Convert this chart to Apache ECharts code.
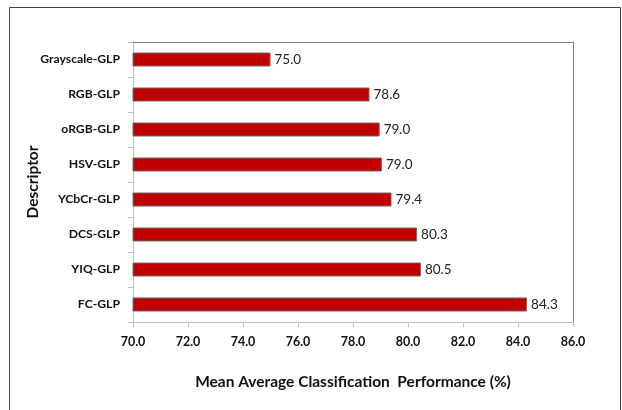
<!DOCTYPE html>
<html>
<head>
<meta charset="utf-8">
<script src="https://cdn.jsdelivr.net/npm/echarts@6/dist/echarts.min.js"></script>
<style>
html,body{margin:0;padding:0;background:#fff;}
#chart{width:622px;height:410px;}
</style>
</head>
<body>
<div id="chart"></div>
<script>
const categories = ['Grayscale-GLP','RGB-GLP','oRGB-GLP','HSV-GLP','YCbCr-GLP','DCS-GLP','YIQ-GLP','FC-GLP'];
const values = [75.0, 78.6, 78.97, 79.05, 79.4, 80.33, 80.47, 84.33];
const xTicks = {min: 70, max: 86, interval: 2};
const xTitle = 'Mean Average Classification  Performance (%)';
const yTitle = 'Descriptor';

const FONT = 'Lato, "Open Sans", sans-serif';
const chart = echarts.init(document.getElementById('chart'), null, {renderer: 'canvas'});
chart.setOption({
  animation: false,
  backgroundColor: '#fff',
  graphic: [{
    type: 'rect', silent: true,
    shape: {x: 9.5, y: 7.5, width: 611, height: 430},
    style: {fill: 'none', stroke: '#444', lineWidth: 1}
  }],
  grid: {left: 133, right: 49, top: 42, bottom: 88, containLabel: false},
  xAxis: [{
    type: 'value', position: 'bottom',
    min: xTicks.min, max: xTicks.max, interval: xTicks.interval,
    name: xTitle, nameLocation: 'middle', nameGap: 52, nameMoveOverlap: false,
    nameTextStyle: {fontFamily: FONT, fontWeight: 'bold', fontSize: 15.5, color: '#111'},
    axisLine: {show: true, lineStyle: {color: '#bfbfbf', width: 1}},
    axisTick: {show: true, length: 5, lineStyle: {color: '#bfbfbf'}},
    axisLabel: {fontFamily: FONT, fontWeight: 'bold', fontSize: 12.5, color: '#111', margin: 13,
      formatter: v => v.toFixed(1)},
    splitLine: {show: false}
  }, {
    type: 'value', position: 'top',
    min: xTicks.min, max: xTicks.max, interval: xTicks.interval,
    axisLine: {show: true, lineStyle: {color: '#7f7f7f', width: 1}},
    axisTick: {show: false}, axisLabel: {show: false}, splitLine: {show: false}
  }],
  yAxis: [{
    type: 'category', data: categories, inverse: true, position: 'left',
    name: yTitle, nameLocation: 'middle', nameGap: 92, nameRotate: 90, nameMoveOverlap: false,
    nameTextStyle: {fontFamily: FONT, fontWeight: 'bold', fontSize: 15.5, color: '#111'},
    axisLine: {show: true, lineStyle: {color: '#bfbfbf', width: 1}},
    axisTick: {show: true, length: 5, lineStyle: {color: '#bfbfbf'}},
    axisLabel: {fontFamily: FONT, fontWeight: 'bold', fontSize: 12.2, color: '#111', margin: 13}
  }, {
    type: 'category', data: categories, inverse: true, position: 'right',
    axisLine: {show: true, lineStyle: {color: '#7f7f7f', width: 1}},
    axisTick: {show: false}, axisLabel: {show: false}
  }],
  series: [{
    type: 'bar',
    data: values,
    xAxisIndex: 0, yAxisIndex: 0,
    barWidth: '40%',
    itemStyle: {color: '#c00000', borderColor: '#6b6b6b', borderWidth: 1},
    label: {show: true, position: 'right', distance: 4,
      fontFamily: FONT, fontSize: 13.5, color: '#222',
      formatter: p => p.value.toFixed(1)}
  }]
});
</script>
</body>
</html>
